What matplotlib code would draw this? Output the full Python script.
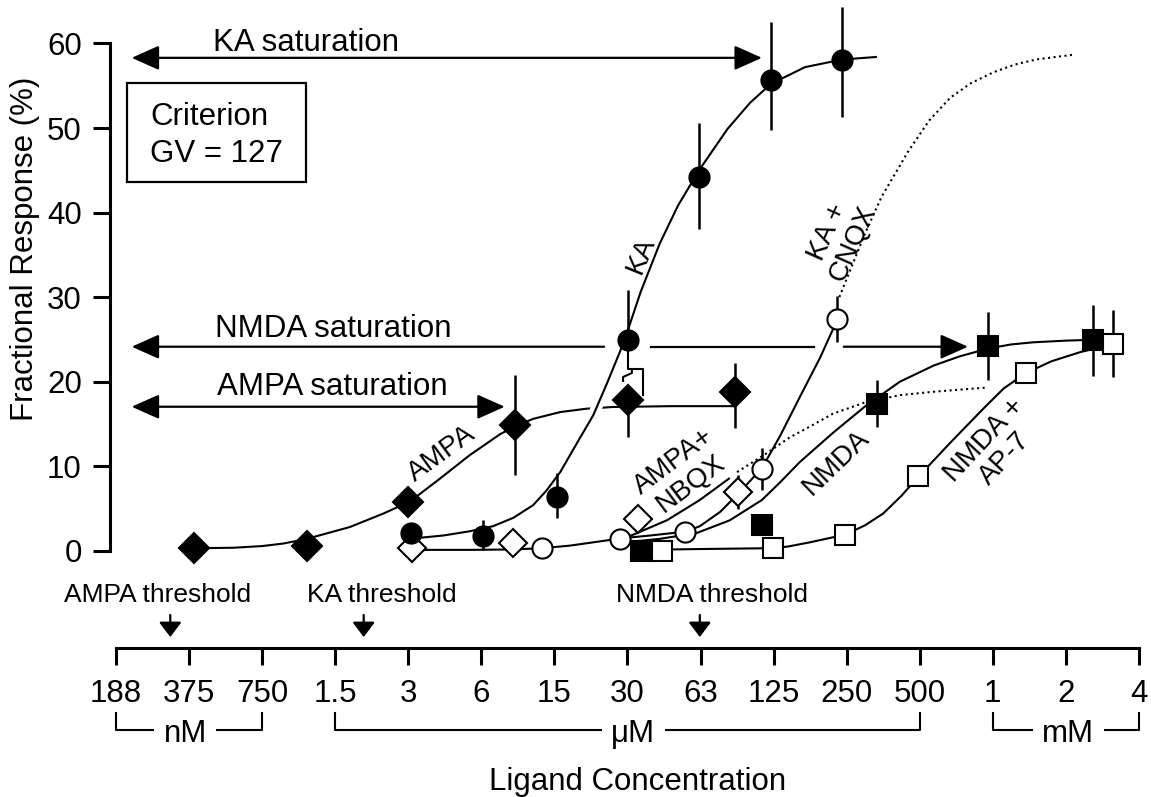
import matplotlib
matplotlib.use('Agg')
import matplotlib.pyplot as plt
import matplotlib.patheffects as pe
from matplotlib.patches import Rectangle

plt.rcParams['font.family'] = ['Liberation Sans', 'DejaVu Sans']

# x = step on the concentration axis (0 = 188 nM ... 14 = 4 mM)
conc_ticks = list(range(15))
conc_labels = ['188', '375', '750', '1.5', '3', '6', '15', '30', '63', '125', '250', '500', '1', '2', '4']

# KA, filled circles
ka_x = [4.04, 5.02, 6.03, 7.01, 7.98, 8.96, 9.94]
ka_y = [2.1, 1.7, 6.4, 24.9, 44.2, 55.7, 58.0]
ka_lo = [0, 1.6, 2.5, 0, 6.1, 5.9, 6.7]
ka_hi = [0, 1.9, 2.8, 5.9, 6.4, 6.8, 6.3]
# bent lower bar of the 30 uM KA point
ka30_bar_x = [7.01, 7.01, 7.21, 7.21]
ka30_bar_y = [24.9, 21.49, 21.49, 18.42]
ka30_kink_x = [7.06, 7.06, 6.94, 6.94]
ka30_kink_y = [21.49, 21.02, 20.55, 20.08]

# AMPA, filled diamonds
ampa_x = [1.07, 2.61, 3.99, 5.46, 7.01, 8.47]
ampa_y = [0.3, 0.5, 5.8, 14.9, 17.8, 18.8]
ampa_lo = [0, 0, 0, 6.0, 4.3, 4.3]
ampa_hi = [0, 0, 0, 5.9, 0, 3.4]

# KA + CNQX, open circles
cnqx_x = [5.83, 6.90, 7.79, 8.84, 9.87]
cnqx_y = [0.3, 1.4, 2.2, 9.7, 27.4]
cnqx_err = [0, 0, 0, 2.5, 2.7]

# AMPA + NBQX, open diamonds
nbqx_x = [4.05, 5.43, 7.14, 8.51]
nbqx_y = [0.3, 0.9, 3.8, 6.9]
nbqx_err = [0, 0, 0, 2.0]

# NMDA, filled squares
nmda_x = [7.19, 8.84, 10.41, 11.93, 13.37]
nmda_y = [0.0, 3.0, 17.4, 24.2, 24.9]
nmda_err = [0, 0, 2.8, 4.0, 4.2]

# NMDA + AP-7, open squares
ap7_x = [7.47, 8.99, 9.98, 10.98, 12.45, 13.64]
ap7_y = [0.0, 0.3, 1.9, 8.8, 21.0, 24.5]
ap7_err = [0, 0, 0, 0, 1.2, 4.0]

# fitted curves
ka_fit_x = [4.12, 4.48, 4.84, 5.16, 5.44, 5.71, 5.89, 6.08, 6.30, 6.53, 6.72, 6.90, 7.01,
            7.18, 7.44, 7.69, 7.98, 8.37, 8.68, 8.96, 9.43, 9.94, 10.40]
ka_fit_y = [1.5, 1.8, 2.3, 2.9, 3.9, 5.4, 7.1, 9.3, 12.6, 16.0, 19.8, 23.6, 26.2,
            30.6, 36.3, 40.8, 45.0, 49.9, 53.0, 55.2, 57.2, 58.1, 58.4]
ampa_fit_x = [1.07, 1.60, 2.00, 2.29, 2.61, 3.20, 3.66, 4.02, 4.43, 4.84, 5.26, 5.46, 5.71,
              6.08, 6.44, 6.80, 7.20, 7.60, 8.00, 8.47]
ampa_fit_y = [0.3, 0.35, 0.55, 0.85, 1.4, 2.8, 4.4, 5.8, 8.5, 11.3, 13.8, 14.7, 15.6,
              16.4, 16.8, 17.0, 17.05, 17.1, 17.1, 17.1]
base_fit_x = [4.02, 4.84, 5.43, 5.83, 6.21, 6.62, 6.90]
base_fit_y = [0.1, 0.1, 0.15, 0.3, 0.6, 1.1, 1.45]
nbqx_fit_x = [6.94, 7.08, 7.54, 7.99, 8.40]
nbqx_fit_y = [1.45, 1.9, 3.6, 6.0, 8.6]
nbqx_dot_x = [8.50, 8.90, 9.22, 9.50, 9.81, 10.27, 10.73, 11.18, 11.92]
nbqx_dot_y = [9.3, 11.5, 13.4, 14.7, 16.2, 17.6, 18.4, 18.8, 19.3]
cnqx_fit_x = [6.90, 7.31, 7.79, 7.99, 8.27, 8.51, 8.84, 9.09, 9.36, 9.64, 9.87]
cnqx_fit_y = [1.45, 1.8, 2.25, 2.9, 4.6, 6.7, 9.75, 13.6, 18.2, 22.9, 27.3]
cnqx_dot_x = [9.90, 10.25, 10.48, 10.84, 11.13, 11.42, 11.70, 12.01, 12.30, 12.59, 13.13]
cnqx_dot_y = [30.0, 37.5, 41.9, 47.2, 50.9, 53.6, 55.3, 56.6, 57.5, 58.1, 58.7]
nmda_fit_x = [6.97, 7.44, 7.95, 8.40, 8.84, 9.09, 9.36, 9.82, 10.27, 10.73, 11.19, 11.55,
              11.93, 12.25, 12.55, 13.00, 13.37]
nmda_fit_y = [1.0, 1.4, 2.1, 3.6, 6.0, 8.1, 10.5, 14.0, 17.2, 20.0, 21.9, 23.0,
              23.9, 24.4, 24.65, 24.85, 24.95]
ap7_fit_x = [7.19, 7.99, 8.99, 9.20, 9.50, 9.98, 10.25, 10.50, 10.75, 10.98, 11.41, 11.87,
             12.15, 12.45, 12.80, 13.20, 13.64]
ap7_fit_y = [0.1, 0.2, 0.3, 0.5, 1.0, 1.9, 3.0, 4.4, 6.5, 8.75, 12.7, 16.8,
             19.2, 21.0, 22.4, 23.5, 24.4]

# saturation / threshold markers
ka_sat = (0.215, 8.84, 58.3)
nmda_sat = (0.215, 11.66, 24.13)
nmda_sat_gaps = [(6.68, 7.32), (9.55, 9.96)]
ampa_sat = (0.215, 5.32, 17.03)
thresholds = [('AMPA threshold', 0.575, 0.743), ('KA threshold', 3.64, 3.39),
              ('NMDA threshold', 8.16, 7.99)]

fig = plt.figure(figsize=(11.51, 7.97), dpi=100)
ax = fig.add_axes([110 / 1151, 0, 1041 / 1151, 1])
ax.set_xlim(-0.082, 14.165)
ax.set_ylim(-29.13, 65.14)
ax.patch.set_visible(False)
ax.spines['top'].set_visible(False)
ax.spines['right'].set_visible(False)
ax.spines['left'].set_bounds(0, 60)
ax.spines['left'].set_linewidth(2.2)
ax.spines['bottom'].set_position(('data', -11.51))
ax.spines['bottom'].set_bounds(0, 14)
ax.spines['bottom'].set_linewidth(2.2)
ax.set_yticks(range(0, 61, 10))
ax.set_xticks(conc_ticks, conc_labels)
ax.tick_params(axis='y', length=12, width=2.2, pad=8.3, labelsize=22.5)
ax.tick_params(axis='x', length=12, width=2.2, pad=10.5, labelsize=22.5)

ax.set_ylabel('Fractional Response (%)', fontsize=22.5, va='center')
ax.yaxis.set_label_coords(-0.0817, 0.688)
ax.set_xlabel('Ligand Concentration', fontsize=22.5, va='baseline')
ax.xaxis.set_label_coords(0.507, 0.0088)

# curves
lk = dict(color='k', lw=1.5, zorder=2, solid_capstyle='butt')
ax.plot(ampa_fit_x, ampa_fit_y, **lk)
ax.plot(base_fit_x, base_fit_y, **lk)
ax.plot(nbqx_fit_x, nbqx_fit_y, **lk)
ax.plot(cnqx_fit_x, cnqx_fit_y, **lk)
ax.plot(nmda_fit_x, nmda_fit_y, **lk)
ax.plot(ap7_fit_x, ap7_fit_y, **lk)
ax.plot(nbqx_dot_x, nbqx_dot_y, color='k', lw=1.5, ls=':', zorder=2)
ax.plot(cnqx_dot_x, cnqx_dot_y, color='k', lw=1.5, ls=':', zorder=2)
ax.plot(ka_fit_x, ka_fit_y, color='k', lw=1.5, zorder=3,
        path_effects=[pe.Stroke(linewidth=8, foreground='white'), pe.Normal()])

# error bars
ek = dict(fmt='none', ecolor='k', elinewidth=1.8, capsize=0, zorder=4)
ax.errorbar(ka_x, ka_y, yerr=[ka_lo, ka_hi], **ek)
ax.errorbar(ampa_x, ampa_y, yerr=[ampa_lo, ampa_hi], **ek)
ax.errorbar(cnqx_x, cnqx_y, yerr=cnqx_err, **ek)
ax.errorbar(nbqx_x, nbqx_y, yerr=nbqx_err, **ek)
ax.errorbar(nmda_x, nmda_y, yerr=nmda_err, **ek)
ax.errorbar(ap7_x, ap7_y, yerr=ap7_err, **ek)
ax.plot(ka30_bar_x, ka30_bar_y, color='k', lw=1.5, zorder=4)
ax.plot(ka30_kink_x, ka30_kink_y, color='k', lw=1.5, zorder=4)

# markers
mk = dict(ls='none', mec='k', mew=1.5, zorder=5)
ax.plot(ampa_x, ampa_y, marker='D', ms=15, mfc='k', **mk)
ax.plot(nbqx_x, nbqx_y, marker='D', ms=14, mfc='white', **mk)
ax.plot(ka_x, ka_y, marker='o', ms=14.5, mfc='k', **mk)
ax.plot(cnqx_x, cnqx_y, marker='o', ms=14.5, mfc='white', **mk)
ax.plot(nmda_x, nmda_y, marker='s', ms=14, mfc='k', **mk)
ax.plot(ap7_x, ap7_y, marker='s', ms=14, mfc='white', **mk)

# saturation arrows
head = 'head_length=0.85,head_width=0.38'
ak = dict(color='k', lw=1.6, shrinkA=0, shrinkB=0, mutation_scale=20)
ax.annotate('', xy=(ka_sat[0], ka_sat[2]), xytext=(ka_sat[1], ka_sat[2]),
            arrowprops=dict(arrowstyle='<|-|>,' + head, **ak))
ax.annotate('', xy=(ampa_sat[0], ampa_sat[2]), xytext=(ampa_sat[1], ampa_sat[2]),
            arrowprops=dict(arrowstyle='<|-|>,' + head, **ak))
ax.annotate('', xy=(nmda_sat[0], nmda_sat[2]), xytext=(nmda_sat_gaps[0][0], nmda_sat[2]),
            arrowprops=dict(arrowstyle='-|>,' + head, **ak))
ax.plot([nmda_sat_gaps[0][1], nmda_sat_gaps[1][0]], [nmda_sat[2]] * 2, color='k', lw=1.6)
ax.annotate('', xy=(nmda_sat[1], nmda_sat[2]), xytext=(nmda_sat_gaps[1][1], nmda_sat[2]),
            arrowprops=dict(arrowstyle='-|>,' + head, **ak))

ax.text(2.60, 59.14, 'KA saturation', ha='center', va='baseline', fontsize=22.5)
ax.text(2.97, 25.31, 'NMDA saturation', ha='center', va='baseline', fontsize=22.5)
ax.text(2.963, 18.42, 'AMPA saturation', ha='center', va='baseline', fontsize=22.5)

# criterion box
ax.add_patch(Rectangle((0.151, 43.65), 2.60 - 0.151, 55.36 - 43.65, fill=False, ec='k', lw=1.6))
ax.text(0.465, 50.35, 'Criterion', ha='left', va='baseline', fontsize=22.5)
ax.text(0.465, 45.94, 'GV = 127', ha='left', va='baseline', fontsize=22.5)

# curve names
curve_labels = [('AMPA', 4.46, 11.5, 36), ('KA', 7.19, 34.9, 68),
                ('KA +\nCNQX', 9.91, 37.0, 66), ('AMPA+\nNBQX', 7.75, 9.2, 37),
                ('NMDA', 9.86, 10.4, 44), ('NMDA +\nAP-7', 12.03, 12.0, 47)]
for txt, x, y, rot in curve_labels:
    ax.text(x, y, txt, ha='center', va='center', rotation=rot, rotation_mode='anchor',
            multialignment='center', linespacing=1.1, fontsize=20, zorder=6)

# thresholds
for txt, xt, xa in thresholds:
    ax.text(xt, -6.08, txt, ha='center', va='baseline', fontsize=19)
    ax.annotate('', xy=(xa, -10.21), xytext=(xa, -7.6),
                arrowprops=dict(arrowstyle='-|>,head_length=0.45,head_width=0.34', color='k',
                                lw=1.6, shrinkA=0, shrinkB=0, mutation_scale=20))

# unit brackets under the axis
for lo, hi, unit, xl in [(0, 2, 'nM', 0.95), (3, 11, '\u03bcM', 7.08), (12, 14, 'mM', 13.03)]:
    ax.plot([lo, lo, hi, hi], [-19.22, -21.23, -21.23, -19.22], color='k', lw=1.5, clip_on=False)
    ax.text(xl, -22.57, unit, ha='center', va='baseline', fontsize=22.5,
            bbox=dict(boxstyle='square,pad=0.3', fc='white', ec='none'))

fig.savefig('out.png', dpi=100)
